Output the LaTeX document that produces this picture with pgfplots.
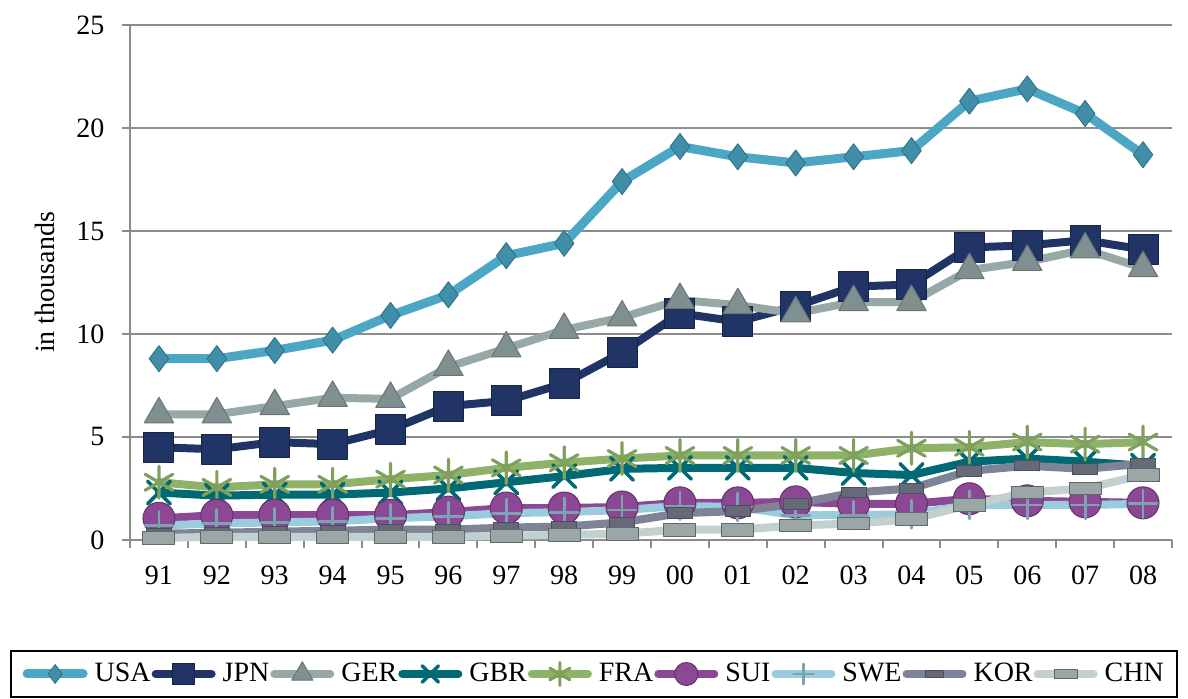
\documentclass[border=0pt]{standalone}
\usepackage{fontspec}
\setmainfont{Liberation Serif}
\usepackage{pgfplots}
\usepackage{pgfplotstable}
\pgfplotsset{compat=1.18}
\usetikzlibrary{plotmarks}

\definecolor{cUSA}{RGB}{75,167,196}
\definecolor{cJPN}{RGB}{33,52,102}
\definecolor{cGER}{RGB}{150,168,168}
\definecolor{cGBR}{RGB}{0,106,116}
\definecolor{cFRA}{RGB}{142,178,104}
\definecolor{cSUI}{RGB}{140,72,148}
\definecolor{cSWE}{RGB}{155,204,222}
\definecolor{cKOR}{RGB}{126,131,152}
\definecolor{cCHN}{RGB}{194,208,208}
\definecolor{gridc}{RGB}{140,140,140}

\pgfplotstableread{
x USA JPN GER GBR FRA SUI SWE KOR CHN
0 8.8 4.5 6.1 2.3 2.8 1.05 0.7 0.3 0.1
1 8.8 4.4 6.1 2.15 2.55 1.2 0.8 0.35 0.15
2 9.2 4.75 6.5 2.2 2.7 1.2 0.85 0.4 0.15
3 9.7 4.65 6.9 2.2 2.7 1.2 0.9 0.45 0.15
4 10.9 5.35 6.85 2.3 2.95 1.2 1.05 0.5 0.15
5 11.9 6.5 8.4 2.5 3.15 1.35 1.15 0.5 0.15
6 13.8 6.75 9.3 2.8 3.5 1.55 1.3 0.6 0.2
7 14.4 7.6 10.2 3.1 3.75 1.55 1.35 0.65 0.25
8 17.4 9.1 10.8 3.45 3.95 1.6 1.45 0.85 0.3
9 19.1 11.0 11.65 3.5 4.1 1.8 1.65 1.3 0.5
10 18.6 10.6 11.4 3.5 4.1 1.8 1.6 1.4 0.5
11 18.3 11.35 11.0 3.5 4.1 1.85 1.2 1.75 0.7
12 18.6 12.3 11.55 3.25 4.1 1.75 1.2 2.3 0.8
13 18.9 12.4 11.55 3.15 4.45 1.75 1.25 2.5 1.0
14 21.3 14.2 13.1 3.8 4.5 2.0 1.7 3.35 1.7
15 21.9 14.3 13.5 3.95 4.75 1.9 1.7 3.6 2.3
16 20.7 14.55 14.1 3.8 4.65 1.85 1.7 3.45 2.5
17 18.7 14.1 13.2 3.6 4.75 1.8 1.75 3.7 3.15
}\datatable

\begin{document}
\fontsize{14}{16}\selectfont
\begin{tikzpicture}
\begin{axis}[
  scale only axis,
  width=521pt, height=257.5pt,
  clip=false,
  xmin=-0.5, xmax=17.5,
  ymin=0, ymax=25,
  xtick={0,...,17},
  xticklabels={91,92,93,94,95,96,97,98,99,00,01,02,03,04,05,06,07,08},
  minor xtick={-0.5,0.5,...,17.5},
  ytick={0,5,...,25},
  /pgf/number format/assume math mode=true,
  axis x line*=bottom,
  axis y line*=left,
  axis line style={draw=gridc, line width=1pt},
  every tick/.style={draw=gridc, line width=1pt},
  tick align=outside,
  major tick length=4pt,
  minor tick length=4pt,
  xtick style={draw=none},
  minor x tick style={draw=gridc, line width=1pt},
  ymajorgrids,
  grid style={draw=gridc, line width=0.8pt},
  xticklabel style={yshift=-4pt, font=\fontsize{14}{16}\selectfont},
  yticklabel style={xshift=-4pt, font=\fontsize{14}{16}\selectfont},
  ylabel={in thousands},
  ylabel style={font=\fontsize{14}{16}\selectfont, yshift=1pt},
  every axis plot/.append style={line join=round, line cap=round},
  legend style={draw=black, line width=1pt, at={(0.445,-0.213)}, anchor=north,
    legend columns=9, font=\fontsize{14}{16}\selectfont,
    inner xsep=6pt, inner ysep=3pt,
    nodes={inner xsep=0.5pt, inner ysep=3pt},
    /tikz/every odd column/.append style={column sep=3pt}},
  legend image code/.code={\draw[mark repeat=2,mark phase=2, every mark/.append style={scale=0.72}] plot coordinates {(0pt,0pt) (14pt,0pt) (28pt,0pt)};},
]
\addplot[cUSA, line width=4.5pt, mark=diamond*, mark size=6.5pt,
  mark options={solid, line width=0.5pt, draw=cUSA!70!black, fill=cUSA!85!black}] table[x=x,y=USA]{\datatable};
\addlegendentry{USA}
\addplot[cJPN, line width=4pt, mark=square*, mark size=7.5pt,
  mark options={solid, line width=0.5pt, draw=cJPN!70!black, fill=cJPN}] table[x=x,y=JPN]{\datatable};
\addlegendentry{JPN}
\addplot[cGER, line width=4pt, mark=triangle*, mark size=8.5pt,
  mark options={solid, line width=0.5pt, draw=cGER!70!black, fill=cGER!85!black}] table[x=x,y=GER]{\datatable};
\addlegendentry{GER}
\addplot[cGBR, line width=4pt, mark=x, mark size=8pt,
  mark options={solid, line width=1.8pt, draw=cGBR}] table[x=x,y=GBR]{\datatable};
\addlegendentry{GBR}
\addplot[cFRA, line width=4pt, mark=asterisk, mark size=8pt,
  mark options={solid, line width=1.6pt, draw=cFRA!90!black}] table[x=x,y=FRA]{\datatable};
\addlegendentry{FRA}
\addplot[cSUI, line width=4pt, mark=*, mark size=8pt,
  mark options={solid, line width=0.5pt, draw=cSUI!70!black, fill=cSUI}] table[x=x,y=SUI]{\datatable};
\addlegendentry{SUI}
\addplot[cSWE, line width=4pt, mark=+, mark size=7pt,
  mark options={solid, line width=1.4pt, draw=cSWE!80!black}] table[x=x,y=SWE]{\datatable};
\addlegendentry{SWE}
\addplot[cKOR, line width=4pt, mark=square*, mark size=2.6pt,
  mark options={solid, xscale=2.4, line width=0.5pt, draw=cKOR!60!black, fill=cKOR!80!black}] table[x=x,y=KOR]{\datatable};
\addlegendentry{KOR}
\addplot[cCHN, line width=4pt, mark=square*, mark size=3.2pt,
  mark options={solid, xscale=2.5, line width=0.5pt, draw=cCHN!50!black, fill=cCHN!80!black}] table[x=x,y=CHN]{\datatable};
\addlegendentry{CHN}
\path (rel axis cs:-0.1248,-0.3068) rectangle (rel axis cs:1.0154,1.0485);
\end{axis}
\end{tikzpicture}
\end{document}
